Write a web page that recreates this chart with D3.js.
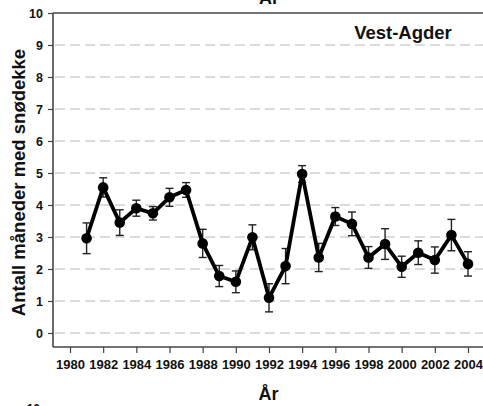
<!DOCTYPE html>
<html>
<head>
<meta charset="utf-8">
<script src="https://cdn.jsdelivr.net/npm/d3@7"></script>
<style>
  html, body { margin: 0; padding: 0; background: #fff; }
  svg { display: block; }
  text { font-family: Arial, "Liberation Sans", sans-serif; font-weight: bold; fill: #111; }
</style>
</head>
<body>
<svg id="chart" width="483" height="406"></svg>
<script>
// Snow-cover months per year, Vest-Agder, with standard-error bars
const years = [1981, 1982, 1983, 1984, 1985, 1986, 1987, 1988, 1989, 1990, 1991, 1992,
               1993, 1994, 1995, 1996, 1997, 1998, 1999, 2000, 2001, 2002, 2003, 2004];
const months = [2.96, 4.55, 3.45, 3.90, 3.74, 4.24, 4.47, 2.80, 1.78, 1.60, 2.99, 1.10,
                2.09, 4.97, 2.36, 3.64, 3.41, 2.36, 2.78, 2.07, 2.51, 2.28, 3.06, 2.16];
const stdErr = [0.48, 0.30, 0.40, 0.25, 0.21, 0.28, 0.23, 0.44, 0.33, 0.34, 0.39, 0.44,
                0.55, 0.26, 0.44, 0.28, 0.37, 0.34, 0.48, 0.33, 0.37, 0.41, 0.49, 0.38];
const xTicks = [1980, 1982, 1984, 1986, 1988, 1990, 1992, 1994, 1996, 1998, 2000, 2002, 2004];
const yTicks = [0, 1, 2, 3, 4, 5, 6, 7, 8, 9, 10];

const svg = d3.select("#chart");
const frameLeft = 53, frameRight = 483, frameTop = 13, frameBottom = 347;

const x = d3.scaleLinear().domain([1980, 2004]).range([70, 468]);
const y = d3.scaleLinear().domain([0, 10]).range([333, 13]);

// dashed horizontal gridlines
svg.append("g")
  .selectAll("line")
  .data(yTicks.filter(d => d < 10))
  .join("line")
  .attr("x1", frameLeft + 2).attr("x2", frameRight)
  .attr("y1", d => y(d)).attr("y2", d => y(d))
  .attr("stroke", "#b8b8b8").attr("stroke-width", 1.2)
  .attr("stroke-dasharray", "10,5");

// frame: top line, left axis, bottom axis
svg.append("line").attr("x1", frameLeft).attr("x2", frameRight)
  .attr("y1", y(10)).attr("y2", y(10)).attr("stroke", "#444").attr("stroke-width", 1.6);
svg.append("line").attr("x1", frameLeft).attr("x2", frameLeft)
  .attr("y1", frameTop).attr("y2", frameBottom).attr("stroke", "#444").attr("stroke-width", 1.6);
svg.append("line").attr("x1", frameLeft).attr("x2", frameRight)
  .attr("y1", frameBottom).attr("y2", frameBottom).attr("stroke", "#444").attr("stroke-width", 1.6);

// y axis ticks and labels
const yAxis = d3.axisLeft(y).tickValues(yTicks).tickFormat(d3.format("d"))
  .tickSize(5).tickPadding(5);
const gy = svg.append("g").attr("transform", `translate(${frameLeft},0)`).call(yAxis);
gy.select(".domain").remove();
gy.selectAll(".tick line").attr("stroke", "#444").attr("stroke-width", 1.2);
gy.selectAll(".tick text").attr("font-size", 12.5).attr("font-family", null).attr("fill", "#111");

// x axis ticks and labels
const xAxis = d3.axisBottom(x).tickValues(xTicks).tickFormat(d3.format("d"))
  .tickSize(6).tickPadding(7);
const gx = svg.append("g").attr("transform", `translate(0,${frameBottom})`).call(xAxis);
gx.select(".domain").remove();
gx.selectAll(".tick line").attr("stroke", "#444").attr("stroke-width", 1.2);
gx.selectAll(".tick text").attr("font-size", 13).attr("font-family", null).attr("fill", "#111");

// error bars
const eb = svg.append("g").attr("stroke", "#222").attr("stroke-width", 1.4);
years.forEach((yr, i) => {
  const cx = x(yr), hi = y(months[i] + stdErr[i]), lo = y(months[i] - stdErr[i]);
  eb.append("line").attr("x1", cx).attr("x2", cx).attr("y1", hi).attr("y2", lo);
  eb.append("line").attr("x1", cx - 4).attr("x2", cx + 4).attr("y1", hi).attr("y2", hi);
  eb.append("line").attr("x1", cx - 4).attr("x2", cx + 4).attr("y1", lo).attr("y2", lo);
});

// series line
const line = d3.line().x((d, i) => x(years[i])).y(d => y(d));
svg.append("path").datum(months)
  .attr("d", line).attr("fill", "none")
  .attr("stroke", "#000").attr("stroke-width", 3.8).attr("stroke-linejoin", "round");

// markers
svg.append("g").selectAll("circle").data(months).join("circle")
  .attr("cx", (d, i) => x(years[i])).attr("cy", d => y(d)).attr("r", 5.3)
  .attr("fill", "#000");

// panel label
svg.append("text").attr("x", 403).attr("y", 38.5).attr("text-anchor", "middle")
  .attr("font-size", 18.5).text("Vest-Agder");

// axis titles
svg.append("text").attr("x", 268.5).attr("y", 400).attr("text-anchor", "middle")
  .attr("font-size", 18).text("År");
svg.append("text").attr("transform", "translate(25,182.5) rotate(-90)")
  .attr("text-anchor", "middle").attr("font-size", 18.5).text("Antall måneder med snødekke");

// neighbouring panels' edges
svg.append("text").attr("x", 269).attr("y", 4).attr("text-anchor", "middle")
  .attr("font-size", 18).text("År");
svg.append("text").attr("x", 40).attr("y", 413).attr("text-anchor", "end")
  .attr("font-size", 12).text("10");
</script>
</body>
</html>
